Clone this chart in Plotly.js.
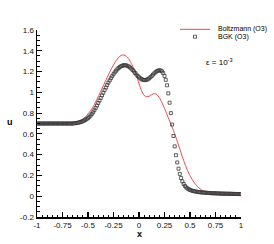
<!DOCTYPE html>
<html><head><meta charset="utf-8">
<script src="https://cdn.plot.ly/plotly-3.0.1.min.js"></script>
<style>html,body{margin:0;padding:0;background:#fff;}#plot{width:274px;height:244px;}</style>
</head><body><div id="plot"></div>
<script>
// BGK (O3) — open squares
const bgkX = [
-1,-0.9875,-0.975,-0.9625,-0.95,-0.9375,-0.925,-0.9125,
-0.9,-0.8875,-0.875,-0.8625,-0.85,-0.8375,-0.825,-0.8125,
-0.8,-0.7875,-0.775,-0.7625,-0.75,-0.7375,-0.725,-0.7125,
-0.7,-0.6875,-0.675,-0.6625,-0.65,-0.6375,-0.625,-0.6125,
-0.6,-0.5875,-0.575,-0.5625,-0.55,-0.5375,-0.525,-0.5125,
-0.5,-0.4875,-0.475,-0.4625,-0.45,-0.4375,-0.425,-0.4125,
-0.4,-0.3875,-0.375,-0.3625,-0.35,-0.3375,-0.325,-0.3125,
-0.3,-0.2875,-0.275,-0.2625,-0.25,-0.2375,-0.225,-0.2125,
-0.2,-0.1875,-0.175,-0.1625,-0.15,-0.1375,-0.125,-0.1125,
-0.1,-0.0875,-0.075,-0.0625,-0.05,-0.0375,-0.025,-0.0125,
0,0.0125,0.025,0.0375,0.05,0.0625,0.075,0.0875,
0.1,0.1125,0.125,0.1375,0.15,0.1625,0.175,0.1875,
0.2,0.2125,0.225,0.2375,0.25,0.2625,0.275,0.2875,
0.3,0.3125,0.325,0.3375,0.35,0.3625,0.375,0.3875,
0.4,0.4125,0.425,0.4375,0.45,0.4625,0.475,0.4875,
0.5,0.5125,0.525,0.5375,0.55,0.5625,0.575,0.5875,
0.6,0.6125,0.625,0.6375,0.65,0.6625,0.675,0.6875,
0.7,0.7125,0.725,0.7375,0.75,0.7625,0.775,0.7875,
0.8,0.8125,0.825,0.8375,0.85,0.8625,0.875,0.8875,
0.9,0.9125,0.925,0.9375,0.95,0.9625,0.975,0.9875,
1];
const bgkU = [
0.700,0.700,0.700,0.700,0.700,0.700,0.700,0.700,
0.700,0.700,0.700,0.700,0.700,0.700,0.700,0.700,
0.700,0.700,0.700,0.700,0.700,0.700,0.700,0.700,
0.700,0.700,0.700,0.700,0.700,0.702,0.703,0.705,
0.707,0.710,0.713,0.717,0.722,0.728,0.735,0.743,
0.752,0.763,0.776,0.791,0.808,0.828,0.850,0.873,
0.897,0.921,0.946,0.971,0.996,1.021,1.046,1.070,
1.093,1.115,1.136,1.156,1.175,1.192,1.208,1.222,
1.234,1.244,1.252,1.257,1.260,1.261,1.259,1.255,
1.248,1.239,1.228,1.215,1.201,1.186,1.171,1.157,
1.145,1.135,1.127,1.121,1.118,1.118,1.121,1.127,
1.135,1.146,1.158,1.171,1.183,1.194,1.203,1.209,
1.212,1.210,1.202,1.185,1.158,1.120,1.068,0.990,
0.900,0.800,0.690,0.580,0.480,0.395,0.325,0.265,
0.215,0.175,0.143,0.118,0.099,0.085,0.075,0.067,
0.061,0.056,0.052,0.049,0.046,0.044,0.042,0.040,
0.038,0.037,0.036,0.035,0.034,0.033,0.032,0.031,
0.030,0.029,0.029,0.028,0.028,0.027,0.027,0.026,
0.026,0.025,0.025,0.025,0.024,0.024,0.024,0.023,
0.023,0.023,0.022,0.022,0.022,0.021,0.021,0.021,
0.020];

// Boltzmann (O3) — red line
const boltzX = [
-1,-0.975,-0.95,-0.925,-0.9,-0.875,-0.85,-0.825,
-0.8,-0.775,-0.75,-0.725,-0.7,-0.675,-0.65,-0.625,
-0.6,-0.575,-0.55,-0.525,-0.5,-0.475,-0.45,-0.425,
-0.4,-0.375,-0.35,-0.325,-0.3,-0.275,-0.25,-0.225,
-0.2,-0.175,-0.15,-0.125,-0.1,-0.075,-0.05,-0.025,
0,0.025,0.05,0.075,0.1,0.125,0.15,0.175,
0.2,0.225,0.25,0.275,0.3,0.325,0.35,0.375,
0.4,0.425,0.45,0.475,0.5,0.525,0.55,0.575,
0.6,0.625,0.65,0.675,0.7,0.725,0.75,0.775,
0.8,0.825,0.85,0.875,0.9,0.925,0.95,0.975,
1];
const boltzU = [
0.700,0.700,0.700,0.700,0.700,0.700,0.700,0.700,
0.700,0.700,0.700,0.700,0.702,0.704,0.708,0.713,
0.720,0.730,0.744,0.765,0.792,0.824,0.862,0.908,
0.958,1.010,1.063,1.116,1.168,1.218,1.264,1.304,
1.336,1.355,1.360,1.348,1.320,1.278,1.225,1.160,
1.085,1.015,0.970,0.958,0.963,0.978,0.988,0.978,
0.948,0.900,0.845,0.785,0.725,0.665,0.600,0.530,
0.455,0.380,0.310,0.250,0.198,0.155,0.120,0.092,
0.070,0.054,0.043,0.035,0.029,0.025,0.023,0.021,
0.020,0.020,0.020,0.020,0.020,0.020,0.020,0.020,
0.020];

const xTickVals = [-1,-0.75,-0.5,-0.25,0,0.25,0.5,0.75,1];
const xTickText = ["-1","-0.75","-0.5","-0.25","0","0.25","0.5","0.75","1"];
const yTickVals = [-0.2,0,0.2,0.4,0.6,0.8,1,1.2,1.4,1.6];
const yTickText = ["-0.2","0","0.2","0.4","0.6","0.8","1","1.2","1.4","1.6"];
const seriesNames = ["Boltzmann (O3)","BGK (O3)"];

const FONT = "Liberation Sans, Arial, sans-serif";
const RED = "#e8474c";

const traces = [
  {x: boltzX, y: boltzU, type: "scatter", mode: "lines", name: seriesNames[0],
   line: {color: RED, width: 1, shape: "spline", smoothing: 0.6}, showlegend: false},
  {x: bgkX, y: bgkU, type: "scatter", mode: "markers", name: seriesNames[1],
   marker: {symbol: "square-open", size: 3, color: "#3a3a3a", line: {width: 0.8, color: "#3a3a3a"}}, showlegend: false}
];

function px2x(p){ return (p-37)/204; }
function px2y(p){ return (217-p)/187; }

const axisCommon = {
  showgrid: false, zeroline: false, showline: true, linecolor: "#000", linewidth: 1.5,
  ticks: "inside", ticklen: 5, tickwidth: 1.2, tickcolor: "#000",
  tickfont: {family: FONT, size: 8, color: "#111"}, tickmode: "array",
  mirror: false
};

const layout = {
  width: 274, height: 244,
  margin: {l: 37, r: 33, t: 30, b: 27, pad: 0},
  paper_bgcolor: "#fff", plot_bgcolor: "#fff",
  showlegend: false,
  xaxis: Object.assign({}, axisCommon, {range: [-1, 1], tickvals: xTickVals, ticktext: xTickText,
    minor: {tick0: -1, dtick: 0.05, ticks: "inside", ticklen: 2.5, tickwidth: 1, tickcolor: "#000", showgrid: false}}),
  yaxis: Object.assign({}, axisCommon, {range: [-0.2, 1.6], tickvals: yTickVals, ticktext: yTickText,
    minor: {tick0: -0.2, dtick: 0.05, ticks: "inside", ticklen: 2.5, tickwidth: 1, tickcolor: "#000", showgrid: false}}),
  shapes: [
    {type: "line", xref: "paper", yref: "paper", x0: px2x(180), x1: px2x(210), y0: px2y(29.3), y1: px2y(29.3),
     line: {color: RED, width: 1}},
    {type: "rect", xref: "paper", yref: "paper", xsizemode: "pixel", ysizemode: "pixel",
     xanchor: px2x(195), yanchor: px2y(36.7), x0: -1.5, x1: 1.5, y0: -1.5, y1: 1.5,
     line: {color: "#3a3a3a", width: 0.8}}
  ],
  annotations: [
    {xref: "paper", yref: "paper", x: px2x(216), y: px2y(29.3), xanchor: "left", yanchor: "middle",
     text: seriesNames[0], showarrow: false, font: {family: FONT, size: 7, color: "#000"}},
    {xref: "paper", yref: "paper", x: px2x(216), y: px2y(36.7), xanchor: "left", yanchor: "middle",
     text: seriesNames[1], showarrow: false, font: {family: FONT, size: 7, color: "#000"}},
    {xref: "paper", yref: "paper", x: px2x(204), y: px2y(61.7), xanchor: "left", yanchor: "middle",
     text: "ε = 10<sup>-3</sup>", showarrow: false, font: {family: FONT, size: 8, color: "#000"}},
    {xref: "paper", yref: "paper", x: px2x(9.5), y: px2y(122), xanchor: "center", yanchor: "middle",
     text: "u", showarrow: false, font: {family: FONT, size: 9, color: "#000", weight: "bold"}},
    {xref: "paper", yref: "paper", x: px2x(139), y: px2y(234), xanchor: "center", yanchor: "middle",
     text: "x", showarrow: false, font: {family: FONT, size: 9, color: "#000", weight: "bold"}}
  ]
};

Plotly.newPlot("plot", traces, layout, {staticPlot: true, displayModeBar: false});
</script>
</body></html>
